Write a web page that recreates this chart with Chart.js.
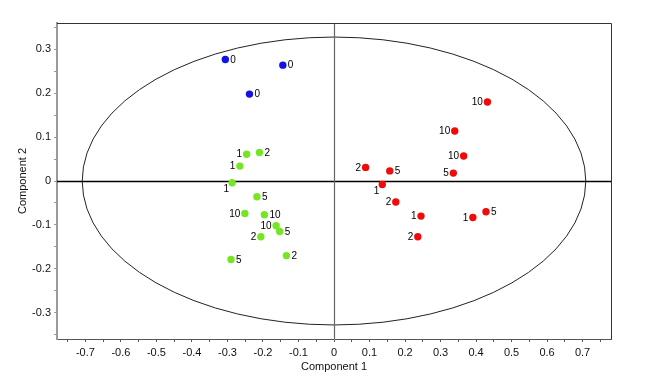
<!DOCTYPE html>
<html><head><meta charset="utf-8">
<script src="https://cdn.jsdelivr.net/npm/chart.js@4"></script>
<style>html,body{margin:0;padding:0;background:#fff}#wrap{width:652px;height:382px}</style>
</head><body><div id="wrap"><canvas id="c" width="652" height="382"></canvas></div>
<script>
// ---- data ----
const blueX = [-0.306, -0.144, -0.238];
const blueY = [0.277, 0.264, 0.198];
const blueLabels = ['0', '0', '0'];

const greenX = [-0.246, -0.210, -0.265, -0.287, -0.217, -0.251, -0.196, -0.163, -0.153, -0.206, -0.134, -0.290];
const greenY = [0.061, 0.065, 0.034, -0.004, -0.036, -0.074, -0.077, -0.102, -0.115, -0.127, -0.170, -0.179];
const greenLabels = ['1', '2', '1', '1', '5', '10', '10', '10', '5', '2', '2', '5'];

const redX = [0.432, 0.340, 0.365, 0.089, 0.157, 0.336, 0.136, 0.174, 0.245, 0.391, 0.428, 0.236];
const redY = [0.180, 0.114, 0.057, 0.031, 0.023, 0.018, -0.008, -0.048, -0.080, -0.083, -0.070, -0.127];
const redLabels = ['10', '10', '10', '2', '5', '5', '1', '2', '1', '1', '5', '2'];

const xTicks = [-0.75,-0.7,-0.65,-0.6,-0.55,-0.5,-0.45,-0.4,-0.35,-0.3,-0.25,-0.2,-0.15,-0.1,-0.05,0,0.05,0.1,0.15,0.2,0.25,0.3,0.35,0.4,0.45,0.5,0.55,0.6,0.65,0.7,0.75];
const yTicks = [-0.35,-0.3,-0.25,-0.2,-0.15,-0.1,-0.05,0,0.05,0.1,0.15,0.2,0.25,0.3,0.35];

const ellipseA = 0.709;
const ellipseB = 0.328;

// label placement (separate from data)
const blueSide = ['r', 'r', 'r'];
const greenSide = ['l', 'r', 'l', 'bl', 'r', 'l', 'r', 'l', 'r', 'l', 'r', 'r'];
const redSide = ['l', 'l', 'l', 'l', 'r', 'l', 'bl', 'l', 'l', 'l', 'r', 'l'];

function pts(xs, ys) { return xs.map((x, i) => ({x: x, y: ys[i]})); }
const FONT = "'Liberation Sans', Arial, sans-serif";

const labelPlugin = {
  id: 'pointLabels',
  afterDatasetsDraw(chart) {
    const ctx = chart.ctx;
    ctx.save();
    ctx.font = '10px ' + FONT;
    ctx.fillStyle = '#000';
    ctx.textBaseline = 'middle';
    chart.data.datasets.forEach((ds, di) => {
      const meta = chart.getDatasetMeta(di);
      meta.data.forEach((el, i) => {
        const side = ds.sides[i];
        const t = ds.labels[i];
        if (side === 'r') { ctx.textAlign = 'left'; ctx.fillText(t, el.x + 5, el.y + 0.5); }
        else if (side === 'l') { ctx.textAlign = 'right'; ctx.fillText(t, el.x - 4.5, el.y + 0.5); }
        else { ctx.textAlign = 'right'; ctx.fillText(t, el.x - 3, el.y + 6.5); }
      });
    });
    ctx.restore();
  }
};

const framePlugin = {
  id: 'frame',
  beforeDatasetsDraw(chart) {
    const {ctx, chartArea: a, scales} = chart;
    ctx.save();
    // ellipse
    const cx = scales.x.getPixelForValue(0), cy = scales.y.getPixelForValue(0);
    const rx = scales.x.getPixelForValue(ellipseA) - cx;
    const ry = cy - scales.y.getPixelForValue(ellipseB);
    ctx.beginPath();
    ctx.ellipse(cx, cy, rx, ry, 0, 0, Math.PI * 2);
    ctx.strokeStyle = '#222';
    ctx.lineWidth = 1;
    ctx.stroke();
    // zero lines
    ctx.beginPath();
    ctx.moveTo(a.left, Math.round(cy) + 0.5); ctx.lineTo(a.right, Math.round(cy) + 0.5);
    ctx.strokeStyle = '#000';
    ctx.lineWidth = 1.3;
    ctx.stroke();
    ctx.beginPath();
    ctx.moveTo(Math.round(cx) + 0.5, a.top); ctx.lineTo(Math.round(cx) + 0.5, a.bottom);
    ctx.strokeStyle = '#666';
    ctx.lineWidth = 1.2;
    ctx.stroke();
    // top and right border
    ctx.beginPath();
    ctx.moveTo(a.left, a.top + 0.5); ctx.lineTo(a.right + 0.5, a.top + 0.5); ctx.lineTo(a.right + 0.5, a.bottom);
    ctx.strokeStyle = '#333';
    ctx.lineWidth = 1;
    ctx.stroke();
    ctx.restore();
  }
};

function tickLabel(v) {
  const r = Math.round(v * 100);
  if (r % 10 !== 0) return '';
  return (r / 100).toString();
}

new Chart(document.getElementById('c'), {
  type: 'scatter',
  data: {
    datasets: [
      {data: pts(blueX, blueY), labels: blueLabels, sides: blueSide, backgroundColor: '#1212e6', pointRadius: 3.7, pointBorderWidth: 0, pointHoverRadius: 3.7},
      {data: pts(greenX, greenY), labels: greenLabels, sides: greenSide, backgroundColor: '#74e622', pointRadius: 3.7, pointBorderWidth: 0, pointHoverRadius: 3.7},
      {data: pts(redX, redY), labels: redLabels, sides: redSide, backgroundColor: '#f20a0a', pointRadius: 3.7, pointBorderWidth: 0, pointHoverRadius: 3.7}
    ]
  },
  options: {
    responsive: false,
    animation: false,
    events: [],
    layout: {padding: {top: 23, right: 41, left: 0, bottom: 0}},
    plugins: {legend: {display: false}, tooltip: {enabled: false}},
    scales: {
      x: {
        type: 'linear', min: -0.78, max: 0.78,
        afterBuildTicks: s => { s.ticks = xTicks.map(v => ({value: v})); },
        afterFit: s => { s.height = 43; },
        grid: {drawOnChartArea: false, drawTicks: true, tickLength: 3, tickColor: '#555', tickWidth: 1},
        border: {display: true, color: '#555', width: 1},
        ticks: {callback: tickLabel, autoSkip: false, maxRotation: 0, padding: 4, color: '#111', font: {family: FONT, size: 11}},
        title: {display: true, text: 'Component 1', color: '#111', font: {family: FONT, size: 11}, padding: {top: 0, bottom: 8}}
      },
      y: {
        type: 'linear', min: -0.36, max: 0.36,
        afterBuildTicks: s => { s.ticks = yTicks.map(v => ({value: v})); },
        afterFit: s => { s.width = 57; },
        grid: {drawOnChartArea: false, drawTicks: true, tickLength: 3, tickColor: '#999', tickWidth: 1},
        border: {display: true, color: '#9a9a9a', width: 2},
        ticks: {callback: tickLabel, autoSkip: false, padding: 3, color: '#111', font: {family: FONT, size: 11}},
        title: {display: true, text: 'Component 2', color: '#111', font: {family: FONT, size: 11}, padding: {top: 16, bottom: 0}}
      }
    }
  },
  plugins: [framePlugin, labelPlugin]
});
</script>
</body></html>
